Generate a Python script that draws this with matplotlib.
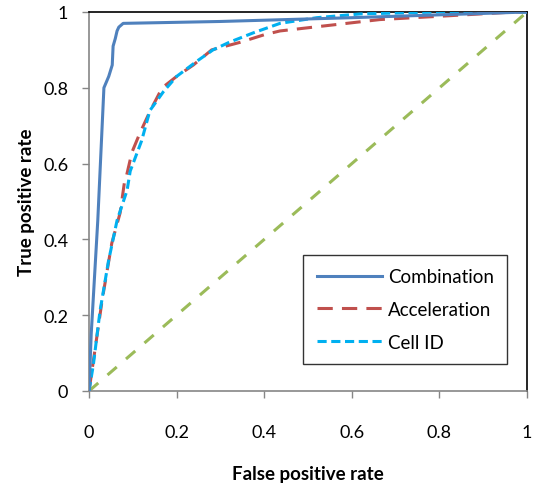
import matplotlib.pyplot as plt
import numpy as np

# ROC points
comb_fpr = [0.0, 0.005, 0.02, 0.034, 0.045, 0.053, 0.055, 0.060, 0.064, 0.068, 0.078, 0.3, 0.6, 1.0]
comb_tpr = [0.0, 0.15, 0.45, 0.80, 0.83, 0.86, 0.91, 0.93, 0.95, 0.96, 0.97, 0.975, 0.985, 1.0]

acc_fpr = [0.0, 0.01, 0.03, 0.052, 0.071, 0.082, 0.086, 0.098, 0.116, 0.14, 0.167, 0.2, 0.238,
           0.28, 0.345, 0.4, 0.436, 0.55, 0.664, 0.82, 0.97, 1.0]
acc_tpr = [0.0, 0.08, 0.24, 0.39, 0.47, 0.56, 0.57, 0.63, 0.68, 0.74, 0.80, 0.83, 0.86,
           0.90, 0.92, 0.94, 0.95, 0.965, 0.98, 0.99, 1.0, 1.0]

cell_fpr = [0.0, 0.01, 0.025, 0.044, 0.064, 0.087, 0.094, 0.12, 0.139, 0.17, 0.2, 0.246,
            0.283, 0.32, 0.375, 0.436, 0.52, 0.62, 0.8, 1.0]
cell_tpr = [0.0, 0.07, 0.21, 0.34, 0.45, 0.53, 0.58, 0.66, 0.74, 0.79, 0.83, 0.87,
            0.90, 0.92, 0.945, 0.97, 0.985, 0.995, 1.0, 1.0]

diag = [0.0, 1.0]

ticks = [0, 0.2, 0.4, 0.6, 0.8, 1]
tick_labels = ['0', '0.2', '0.4', '0.6', '0.8', '1']

plt.rcParams['font.family'] = ['Lato', 'DejaVu Sans']

fig = plt.figure(figsize=(5.34, 4.85), dpi=100)
ax = fig.add_axes([0.1667, 0.1918, 0.8203, 0.7814])

ax.plot(diag, diag, color='#9BBB59', lw=2.2, dashes=(4, 4), zorder=1)
ax.plot(acc_fpr, acc_tpr, color='#C0504D', lw=2.2, dashes=(5, 3), label='Acceleration', zorder=2)
ax.plot(cell_fpr, cell_tpr, color='#00B0F0', lw=2.2, dashes=(3, 1.5), label='Cell ID', zorder=3)
ax.plot(comb_fpr, comb_tpr, color='#4F81BD', lw=2.2, label='Combination', zorder=4)

ax.set_xlim(0, 1)
ax.set_ylim(0, 1)
ax.set_xticks(ticks)
ax.set_xticklabels(tick_labels)
ax.set_yticks(ticks)
ax.set_yticklabels(tick_labels)
ax.tick_params(direction='out', length=5, width=1, color='#868686', labelsize=13)
ax.tick_params(axis='x', pad=19)
ax.tick_params(axis='y', pad=10)

for side in ['left', 'bottom']:
    ax.spines[side].set_color('#868686')
    ax.spines[side].set_linewidth(1.2)
for side in ['top', 'right']:
    ax.spines[side].set_color('black')
    ax.spines[side].set_linewidth(1.2)

ax.set_xlabel('False positive rate', fontsize=13.5, fontweight='bold', labelpad=18)
ax.set_ylabel('True positive rate', fontsize=13.5, fontweight='bold', labelpad=6)

handles, labels = ax.get_legend_handles_labels()
order = [2, 0, 1]
leg = ax.legend([handles[i] for i in order], [labels[i] for i in order],
                loc='lower right', bbox_to_anchor=(0.954, 0.071), fontsize=13.5,
                fancybox=False, edgecolor='black', handlelength=3.5, labelspacing=0.85,
                borderpad=0.7, handletextpad=0.3, borderaxespad=0)
leg.get_frame().set_linewidth(1.0)

plt.savefig('out.png', dpi=100)
